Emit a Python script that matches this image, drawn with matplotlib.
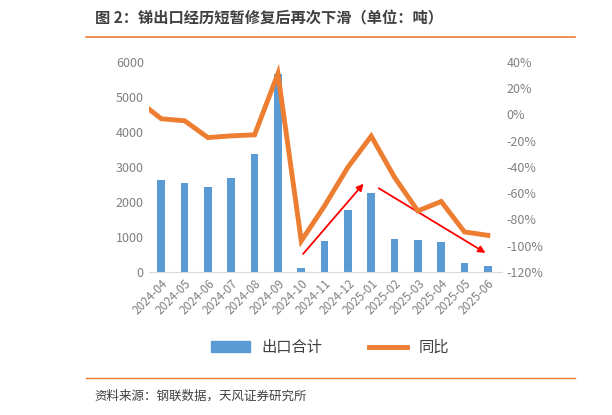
import matplotlib.pyplot as plt
import matplotlib.patches as mpatches
import matplotlib.lines as mlines

plt.rcParams['font.family'] = ['Noto Sans CJK SC', 'DejaVu Sans']

months = ["2024-04", "2024-05", "2024-06", "2024-07", "2024-08", "2024-09", "2024-10",
          "2024-11", "2024-12", "2025-01", "2025-02", "2025-03", "2025-04", "2025-05", "2025-06"]
exports = [2620, 2540, 2410, 2670, 3360, 5640, 120, 870, 1760, 2240, 950, 900, 860, 260, 170]
# yoy incl. the clipped 2024-03 point at the left edge
yoy_x = [-1] + list(range(len(months)))
yoy = [10.5, -3.4, -4.9, -17.7, -16.4, -15.6, 31, -96.5, -69.7, -40.3, -16.6, -48, -73.6, -66.4, -89.6, -92.2]

blue = "#5b9bd5"
orange = "#ed7d31"
gray = "#808080"

fig = plt.figure(figsize=(6.12, 4.15), dpi=100)
ax = fig.add_axes([0.243, 0.345, 0.577, 0.506])
x = list(range(len(months)))
ax.bar(x, exports, width=0.33, color=blue, zorder=2)
ax.set_ylim(0, 6000)
ax.set_xlim(-0.54, 14.6)
ax.set_yticks(range(0, 6001, 1000))
ax.set_xticks(x)
ax.set_xticklabels(months, rotation=45, ha="right", rotation_mode="anchor", fontsize=8.5, color=gray)
ax.tick_params(axis="y", labelsize=9, colors=gray, length=0)
ax.tick_params(axis="x", length=0)
for s in ["top", "right", "left"]:
    ax.spines[s].set_visible(False)
ax.spines["bottom"].set_color("#d9d9d9")

ax2 = ax.twinx()
ax2.plot(yoy_x, yoy, color=orange, lw=3.5, zorder=3, solid_joinstyle="miter")
ax2.set_ylim(-120, 40)
ax2.set_yticks(range(-120, 41, 20))
ax2.set_yticklabels([f"{v}%" for v in range(-120, 41, 20)])
ax2.tick_params(axis="y", labelsize=9, colors=gray, length=0)
for s in ax2.spines.values():
    s.set_visible(False)

# red trend arrows (left-axis data units)
ax.annotate("", xy=(8.75, 2580), xytext=(6.0, 450),
            arrowprops=dict(arrowstyle="-|>", color="red", lw=1.3, mutation_scale=10), zorder=5)
ax.annotate("", xy=(14.0, 500), xytext=(9.22, 2430),
            arrowprops=dict(arrowstyle="-|>", color="red", lw=1.3, mutation_scale=10), zorder=5)

handles = [mpatches.Patch(color=blue, label="出口合计"),
           mlines.Line2D([], [], color=orange, lw=3.5, label="同比")]
fig.legend(handles=handles, loc="center", bbox_to_anchor=(0.54, 0.163), ncol=2, frameon=False,
           fontsize=11, columnspacing=3, handlelength=2.5, labelcolor="#404040")

fig.text(0.155, 0.955, "图 2：锑出口经历短暂修复后再次下滑（单位：吨）", fontsize=11, fontweight="bold",
         color="#404040", va="center")
fig.add_artist(mlines.Line2D([0.14, 0.94], [0.912, 0.912], color=orange, lw=1.2))
fig.add_artist(mlines.Line2D([0.14, 0.94], [0.088, 0.088], color=orange, lw=1.0))
fig.text(0.155, 0.045, "资料来源：钢联数据，天风证券研究所", fontsize=9, color="#404040", va="center")

fig.savefig("out.png", dpi=100)
